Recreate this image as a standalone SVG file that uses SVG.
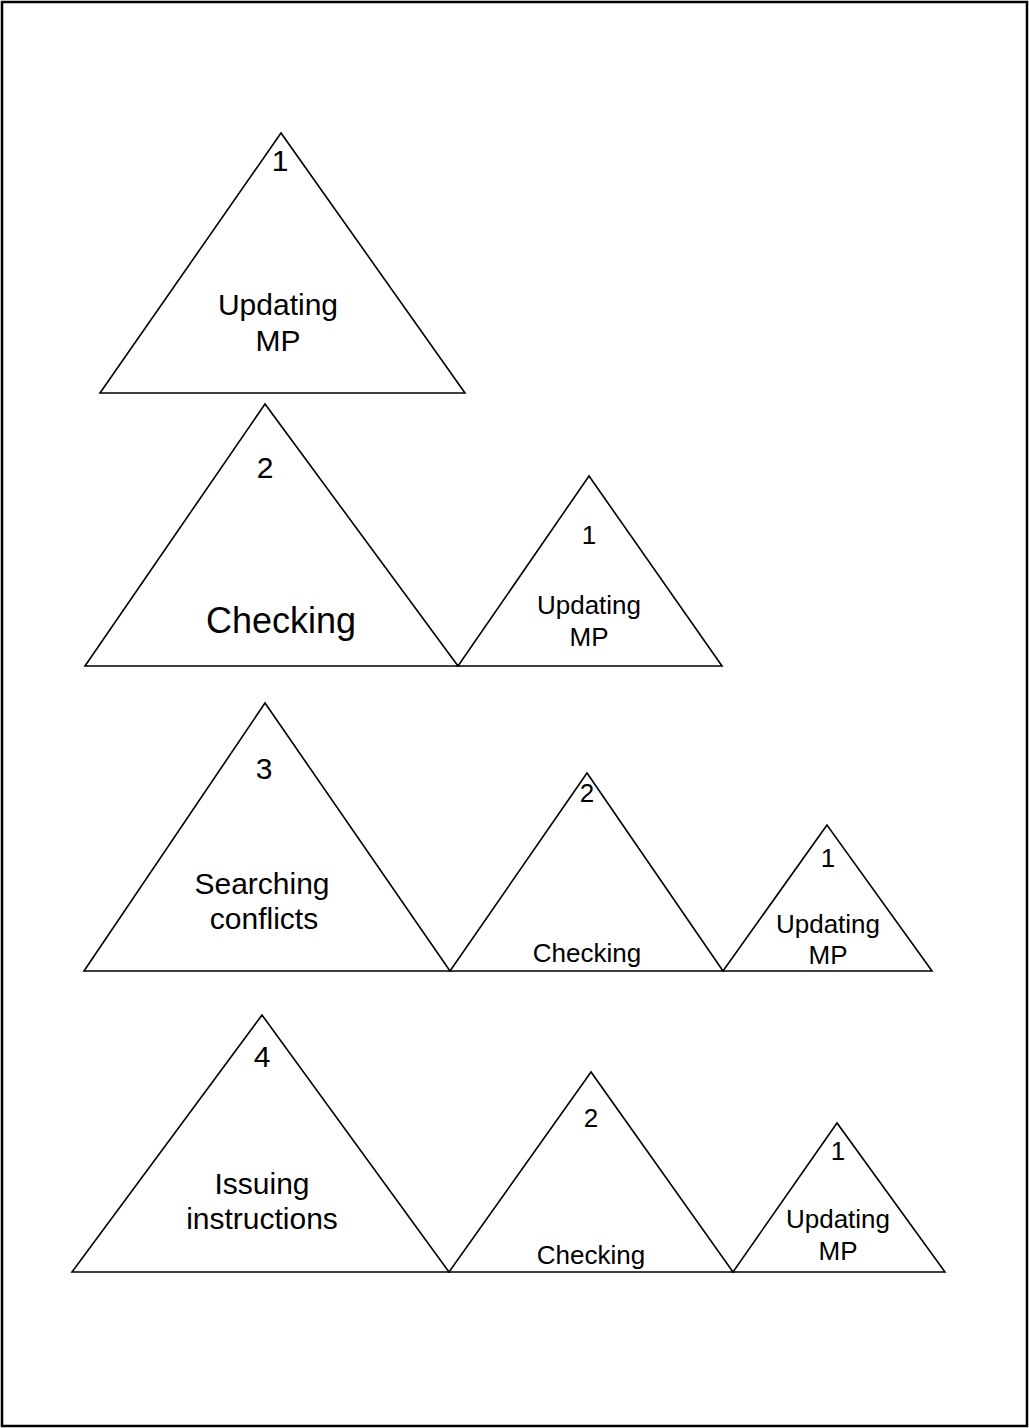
<svg xmlns="http://www.w3.org/2000/svg" width="1029" height="1428" viewBox="0 0 1029 1428">
  <style>
    .tri { fill: #ffffff; stroke: #000000; stroke-width: 1.6; stroke-linejoin: miter; }
    .lg { font-family: "Liberation Sans", Arial, sans-serif; font-size: 30px; fill: #000000; text-anchor: middle; }
    .sm { font-family: "Liberation Sans", Arial, sans-serif; font-size: 26px; fill: #000000; text-anchor: middle; }
    .xl { font-family: "Liberation Sans", Arial, sans-serif; font-size: 36px; fill: #000000; text-anchor: middle; }
  </style>
  <rect x="0" y="0" width="1029" height="1428" fill="#ffffff"/>
  <!-- page frame -->
  <rect x="2" y="2" width="1025" height="1424" fill="none" stroke="#000000" stroke-width="2.5"/>

  <!-- row 1: single task -->
  <g id="r1-updating">
    <polygon class="tri" points="281,133 100,393 465,393"/>
    <text class="lg" x="280" y="171">1</text>
    <text class="lg" x="278" y="315">Updating</text>
    <text class="lg" x="278" y="351">MP</text>
  </g>

  <!-- row 2 -->
  <g id="r2-checking">
    <polygon class="tri" points="265,404 85,666 458,666"/>
    <text class="lg" x="265" y="478">2</text>
    <text class="xl" x="281" y="633">Checking</text>
  </g>
  <g id="r2-updating">
    <polygon class="tri" points="589,476 458,666 722,666"/>
    <text class="sm" x="589" y="544">1</text>
    <text class="sm" x="589" y="614">Updating</text>
    <text class="sm" x="589" y="646">MP</text>
  </g>

  <!-- row 3 -->
  <g id="r3-searching">
    <polygon class="tri" points="265,703 84,971 450,971"/>
    <text class="lg" x="264" y="779">3</text>
    <text class="lg" x="262" y="894">Searching</text>
    <text class="lg" x="264" y="929">conflicts</text>
  </g>
  <g id="r3-checking">
    <polygon class="tri" points="587,773 450,971 723,971"/>
    <text class="sm" x="587" y="802">2</text>
    <text class="sm" x="587" y="962">Checking</text>
  </g>
  <g id="r3-updating">
    <polygon class="tri" points="827,825 723,971 932,971"/>
    <text class="sm" x="828" y="867">1</text>
    <text class="sm" x="828" y="933">Updating</text>
    <text class="sm" x="828" y="964">MP</text>
  </g>

  <!-- row 4 -->
  <g id="r4-issuing">
    <polygon class="tri" points="262,1015 72,1272 449,1272"/>
    <text class="lg" x="262" y="1067">4</text>
    <text class="lg" x="262" y="1194">Issuing</text>
    <text class="lg" x="262" y="1229">instructions</text>
  </g>
  <g id="r4-checking">
    <polygon class="tri" points="591,1072 449,1272 733,1272"/>
    <text class="sm" x="591" y="1127">2</text>
    <text class="sm" x="591" y="1264">Checking</text>
  </g>
  <g id="r4-updating">
    <polygon class="tri" points="837,1123 733,1272 945,1272"/>
    <text class="sm" x="838" y="1160">1</text>
    <text class="sm" x="838" y="1228">Updating</text>
    <text class="sm" x="838" y="1260">MP</text>
  </g>

  <g id="connectors"></g>
</svg>
